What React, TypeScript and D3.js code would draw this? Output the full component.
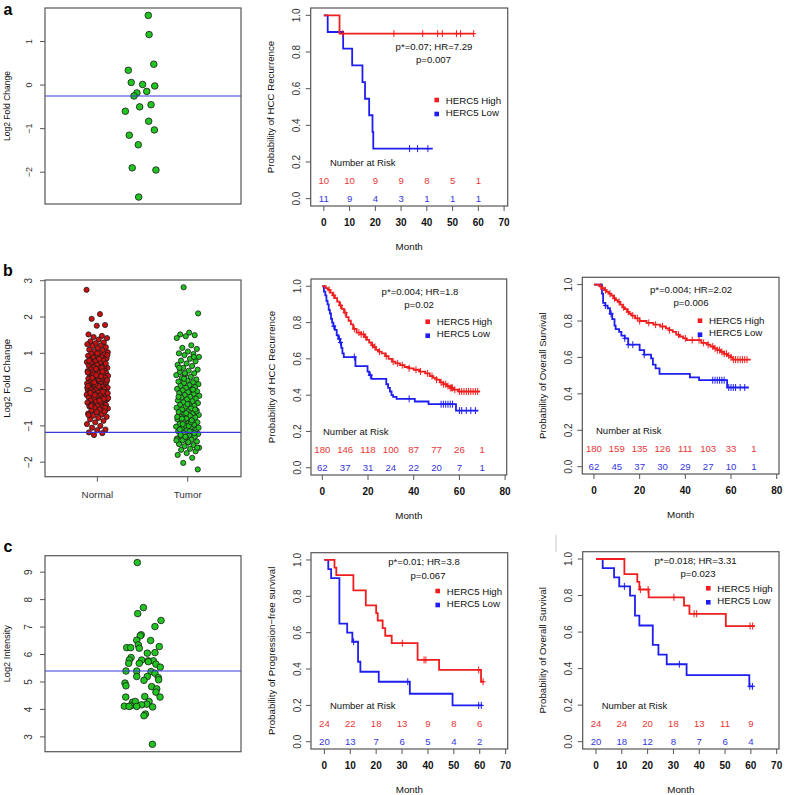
import React from 'react';
import * as d3 from 'd3';

const FONT = "'Liberation Sans', Arial, Helvetica, sans-serif";
const RED = '#f01e1e';
const BLUE = '#1e1ef0';
const RED_TXT = '#e83535';
const BLUE_TXT = '#3535e0';
const GREEN = '#22c422';
const DARKRED = '#c81212';

// ---------------- Panel a: scatter ----------------
const aValues = [1.6, 1.16, 0.48, 0.34, 0.06, 0.015, -0.02, -0.145, -0.18, -0.25, -0.45, -0.5, -0.6, -0.83, -1.03, -1.15, -1.37, -1.9, -1.95, -2.57];
const aJitter = [0.027, 0.031, 0.055, -0.075, -0.06, -0.002, 0.06, 0.019, -0.031, -0.046, 0.041, -0.017, -0.09, 0.029, 0.058, -0.07, -0.024, -0.055, 0.066, -0.022];
const aRef = -0.25;
const aTicks = [-2, -1, 0, 1];

// ---------------- Panel b: scatter ----------------
const bNormal = [2.75, 2.08, 1.95, 1.78, 1.76, 1.52, 1.48, 1.45, 1.42, 1.38, 1.33, 1.3, 1.28, 1.25, 1.22, 1.2, 1.17, 1.14, 1.1, 1.08, 1.05, 1.03, 1.01, 0.99, 0.97, 0.95, 0.93, 0.9, 0.88, 0.86, 0.84, 0.82, 0.8, 0.78, 0.76, 0.74, 0.72, 0.7, 0.68, 0.66, 0.64, 0.62, 0.6, 0.58, 0.56, 0.55, 0.53, 0.51, 0.5, 0.48, 0.46, 0.45, 0.43, 0.41, 0.4, 0.38, 0.36, 0.35, 0.33, 0.31, 0.3, 0.28, 0.27, 0.25, 0.24, 0.22, 0.2, 0.19, 0.17, 0.16, 0.14, 0.13, 0.11, 0.1, 0.08, 0.07, 0.05, 0.04, 0.02, 0.01, -0.01, -0.02, -0.04, -0.05, -0.07, -0.08, -0.1, -0.11, -0.13, -0.14, -0.16, -0.17, -0.19, -0.2, -0.22, -0.24, -0.25, -0.27, -0.29, -0.3, -0.32, -0.34, -0.36, -0.38, -0.4, -0.42, -0.44, -0.46, -0.48, -0.5, -0.52, -0.55, -0.58, -0.6, -0.63, -0.66, -0.69, -0.72, -0.75, -0.78, -0.82, -0.86, -0.9, -0.95, -1.0, -1.05, -1.1, -1.12, -1.18, -1.2, -1.25, 0.95, 0.85, 0.75, 0.65, 0.57, 0.47, 0.37, 0.29, 0.21, 0.12, 0.03, -0.06, -0.15, -0.23, -0.31, -0.41, -0.5, -0.62, -0.7, 0.6, 0.42, 0.26, 0.09, -0.09, -0.26, 0.15, 0.05, -0.35, 0.32, 0.72, 1.0, 0.8, 0.5, 0.2, -0.1, -0.3, -0.45, -0.6, 0.4, 0.1];
const bTumor = [2.82, 2.1, 1.57, 1.52, 1.5, 1.47, 1.42, 1.22, 1.15, 1.12, 1.05, 1.0, 0.98, 0.95, 0.9, 0.85, 0.8, 0.78, 0.72, 0.68, 0.65, 0.6, 0.55, 0.52, 0.48, 0.45, 0.42, 0.4, 0.35, 0.32, 0.28, 0.25, 0.22, 0.2, 0.18, 0.15, 0.12, 0.1, 0.07, 0.05, 0.02, 0.0, -0.02, -0.05, -0.07, -0.1, -0.12, -0.15, -0.17, -0.2, -0.22, -0.25, -0.27, -0.3, -0.32, -0.35, -0.37, -0.4, -0.42, -0.45, -0.47, -0.5, -0.52, -0.55, -0.57, -0.6, -0.62, -0.65, -0.67, -0.7, -0.72, -0.75, -0.77, -0.8, -0.82, -0.85, -0.87, -0.9, -0.92, -0.95, -0.97, -1.0, -1.02, -1.05, -1.07, -1.1, -1.12, -1.15, -1.17, -1.2, -1.22, -1.25, -1.27, -1.3, -1.32, -1.35, -1.38, -1.4, -1.43, -1.46, -1.5, -1.53, -1.56, -1.6, -1.63, -1.66, -1.7, -1.75, -1.8, -1.88, -2.02, -2.2, -1.0, -1.1, -1.2, -1.3, -1.4, -0.9, -0.8, -0.6, -0.4, -0.2, 0.0, 0.3, -1.05, -1.15, -1.25, -0.55, -0.65, -0.75, -0.85, -0.95, -1.6, -1.45, 0.6, 0.9, 0.45];
const bRef = -1.18;
const bTicks = [-2, -1, 0, 1, 2, 3];
const bGroups = ['Normal', 'Tumor'];

// ---------------- Panel c: scatter ----------------
const cValues = [9.35, 7.71, 7.49, 7.24, 7.02, 6.72, 6.68, 6.52, 6.51, 6.35, 6.23, 6.29, 6.25, 6.25, 6.07, 6.05, 5.89, 5.8, 5.8, 5.77, 5.77, 5.68, 5.68, 5.65, 5.74, 5.54, 5.4, 5.4, 5.38, 5.32, 5.2, 5.2, 5.16, 5.08, 5.06, 4.96, 4.86, 4.83, 4.75, 4.63, 4.45, 4.47, 4.45, 4.29, 4.26, 4.29, 4.19, 4.17, 4.13, 4.12, 4.11, 4.11, 4.09, 3.83, 3.77, 2.73];
const cJitter = [-0.029, 0.002, -0.027, 0.092, 0.061, -0.009, -0.014, -0.032, 0.039, -0.024, -0.019, 0.083, -0.083, -0.063, 0.061, 0.022, -0.061, -0.07, -0.007, 0.027, 0.053, -0.073, -0.019, 0.066, 0.027, 0.088, -0.087, -0.032, 0.041, 0.061, -0.032, 0.022, 0.078, 0.08, 0.005, -0.092, -0.087, 0.044, 0.07, 0.066, -0.088, 0.009, 0.087, 0.031, -0.053, -0.039, 0.019, -0.007, -0.063, -0.095, -0.071, -0.032, 0.049, 0.012, 0.005, 0.048];
const cRef = 5.4;
const cTicks = [3, 4, 5, 6, 7, 8, 9];

// ---------------- KM curves ----------------
// a: HCC recurrence
const aHighT = [0, 6.1];
const aHighS = [1, 0.9];
const aHighEnd = 58.3;
const aHighCens = [7.4, 27.2, 38.4, 44.2, 46, 51.5, 53.1, 58.2];
const aLowT = [0, 1.5, 7.5, 11, 15, 16, 17.6, 18.9, 19.2];
const aLowS = [1, 0.909, 0.818, 0.727, 0.636, 0.545, 0.455, 0.364, 0.273];
const aLowEnd = 42.3;
const aLowCens = [33.3, 36.4, 40.4];
const aRiskT = [0, 10, 20, 30, 40, 50, 60];
const aRiskHigh = [10, 10, 9, 9, 8, 5, 1];
const aRiskLow = [11, 9, 4, 3, 1, 1, 1];

// b1: HCC recurrence
const b1HighT = [0, 1.5, 2.5, 3.5, 4.5, 5.5, 6.5, 7.5, 8.5, 9.5, 10.5, 11.5, 12.5, 13.5, 15, 17, 18.5, 19.5, 20.5, 21.5, 22.5, 23.5, 24.5, 26, 27.5, 29, 30.5, 32, 34, 36, 38, 40, 42.5, 45, 47, 48.5, 50, 51.5, 53, 54.5, 56, 57.5, 59.5];
const b1HighS = [1, 0.99, 0.98, 0.965, 0.95, 0.935, 0.915, 0.895, 0.875, 0.855, 0.83, 0.81, 0.79, 0.765, 0.745, 0.735, 0.72, 0.705, 0.69, 0.675, 0.665, 0.65, 0.64, 0.63, 0.615, 0.6, 0.585, 0.575, 0.565, 0.555, 0.548, 0.54, 0.53, 0.52, 0.505, 0.495, 0.485, 0.47, 0.46, 0.45, 0.44, 0.43, 0.42];
const b1HighEnd = 69;
const b1HighCens = [3, 5, 8, 10, 14, 16, 17, 18, 19, 22, 23, 25, 28, 31, 33, 35, 38, 41, 43, 46, 48, 50, 52, 53, 54, 55, 56, 56.5, 57, 58, 60, 61, 62, 63, 64, 65, 66, 67, 68];
const b1LowT = [0, 0.7, 1.3, 1.8, 2.3, 2.8, 3.3, 3.8, 4.3, 4.8, 5.5, 6.3, 7, 7.7, 8.3, 8.8, 9.4, 14.5, 19.8, 20.5, 21.5, 28, 28.8, 29.6, 30.3, 31, 32.5, 40.5, 46.5, 58.5];
const b1LowS = [1, 0.97, 0.95, 0.92, 0.9, 0.87, 0.85, 0.82, 0.8, 0.78, 0.76, 0.73, 0.71, 0.69, 0.66, 0.63, 0.61, 0.56, 0.53, 0.51, 0.49, 0.46, 0.44, 0.42, 0.4, 0.39, 0.38, 0.365, 0.35, 0.315];
const b1LowEnd = 68.3;
const b1LowCens = [5, 7.5, 8, 14, 21, 38, 52, 53, 54, 55, 56, 57, 60, 61, 63, 65, 67];
const bRiskT = [0, 10, 20, 30, 40, 50, 60, 70];
const b1RiskHigh = [180, 146, 118, 100, 87, 77, 26, 1];
const b1RiskLow = [62, 37, 31, 24, 22, 20, 7, 1];

// b2: overall survival
const b2HighT = [0, 2.5, 3.5, 4.5, 5.5, 6.5, 7.5, 8.5, 9.5, 10.5, 11.5, 12.5, 13.5, 14.5, 15.5, 16.5, 18, 20, 23, 26, 29, 31.5, 33, 34.5, 36, 37.5, 39, 40.5, 47, 49.5, 51, 52.5, 54, 55.5, 57, 58.5, 60, 61];
const b2HighS = [1, 0.99, 0.98, 0.97, 0.96, 0.95, 0.94, 0.925, 0.915, 0.905, 0.89, 0.875, 0.865, 0.85, 0.84, 0.83, 0.815, 0.8, 0.79, 0.78, 0.77, 0.76, 0.75, 0.74, 0.725, 0.715, 0.705, 0.695, 0.68, 0.67, 0.66, 0.65, 0.64, 0.63, 0.62, 0.61, 0.6, 0.588];
const b2HighEnd = 68.6;
const b2HighCens = [3, 5, 7, 9, 11, 13, 15, 17, 19, 20, 24, 27, 30, 33, 37, 40, 43, 46, 48, 50, 52, 53, 54, 55, 56, 57, 58, 59, 60, 61, 62, 63, 64, 65, 66, 67];
const b2LowT = [0, 3.5, 4, 5, 6, 7, 8, 9, 9.5, 11, 12, 13.5, 15, 20, 22, 25, 25.8, 27, 28.7, 42, 46, 58.3];
const b2LowS = [1, 0.95, 0.9, 0.885, 0.87, 0.84, 0.81, 0.775, 0.755, 0.74, 0.72, 0.705, 0.67, 0.64, 0.615, 0.595, 0.56, 0.54, 0.51, 0.49, 0.475, 0.435];
const b2LowEnd = 67.8;
const b2LowCens = [5, 7.5, 13.5, 15, 17, 22, 52, 53, 54, 55, 56, 57, 59, 60, 61, 62, 64, 66];
const b2RiskHigh = [180, 159, 135, 126, 111, 103, 33, 1];
const b2RiskLow = [62, 45, 37, 30, 29, 27, 10, 1];

// c1: progression-free survival
const c1HighT = [0, 3.9, 4.6, 11.2, 16, 20, 20.6, 22.5, 23.5, 26, 36, 44.3, 60.5];
const c1HighS = [1, 0.958, 0.917, 0.833, 0.75, 0.708, 0.667, 0.625, 0.583, 0.542, 0.45, 0.395, 0.33];
const c1HighEnd = 61.5;
const c1HighCens = [30.1, 38.5, 39.2, 59.6, 61.3];
const c1LowT = [0, 1.5, 2.6, 5.8, 8.8, 10.8, 13, 13.9, 21, 33, 49.5];
const c1LowS = [1, 0.95, 0.9, 0.65, 0.6, 0.55, 0.44, 0.385, 0.33, 0.264, 0.2];
const c1LowEnd = 61;
const c1LowCens = [11.3, 32.2, 59.6, 60.6];
const cRiskT = [0, 10, 20, 30, 40, 50, 60];
const c1RiskHigh = [24, 22, 18, 13, 9, 8, 6];
const c1RiskLow = [20, 13, 7, 6, 5, 4, 2];

// c2: overall survival
const c2HighT = [0, 11, 16, 16.8, 20.4, 34.1, 36.2, 50.3];
const c2HighS = [1, 0.917, 0.875, 0.833, 0.79, 0.745, 0.7, 0.633];
const c2HighEnd = 61.5;
const c2HighCens = [17.2, 20.2, 30.2, 38, 39, 59.7, 60.7];
const c2LowT = [0, 2.6, 7, 9, 13.2, 15.1, 16.8, 22, 24.2, 27.4, 35.1, 59.4];
const c2LowS = [1, 0.95, 0.9, 0.85, 0.8, 0.69, 0.636, 0.53, 0.477, 0.424, 0.364, 0.303];
const c2LowEnd = 61;
const c2LowCens = [11, 32.3, 59.6, 60.6];
const c2RiskHigh = [24, 24, 20, 18, 13, 11, 9];
const c2RiskLow = [20, 18, 12, 8, 7, 6, 4];

const survTicks = [0, 0.2, 0.4, 0.6, 0.8, 1.0];
const ticks70 = [0, 10, 20, 30, 40, 50, 60, 70];
const ticks80 = [0, 20, 40, 60, 80];

const LABEL_PFS = 'Probability of Progression\u2212free survival';

const fmtTick = (v: number) => (v < 0 ? '\u2212' + Math.abs(v) : String(v));

// deterministic low-discrepancy spread for dense strip chart
const spread = (i: number) => ((i * 0.6180339887) % 1) - 0.5;

function Scatter(p: any) {
  const left = 45, w = 196;
  const x = d3.scaleLinear().domain(p.xDomain).range([left, left + w]);
  const y = d3.scaleLinear().domain(p.yDomain).range([p.top + p.h, p.top]);
  const bottom = p.top + p.h;
  return (
    <g fontFamily={FONT}>
      {p.groups.map((g: any, gi: number) =>
        g.values.map((v: number, i: number) => (
          <circle key={gi + '-' + i} cx={x(g.pos + g.jit(i))} cy={y(v)} r={p.r} fill={g.fill} stroke="#1a1a1a" strokeWidth={0.8} />
        ))
      )}
      <line x1={left} x2={left + w} y1={y(p.refv)} y2={y(p.refv)} stroke="#3a3ae0" strokeWidth={1.2} />
      <rect x={left} y={p.top} width={w} height={p.h} fill="none" stroke="#555" strokeWidth={1.2} />
      {p.ticks.map((t: number) => (
        <g key={t}>
          <line x1={left - 5} x2={left} y1={y(t)} y2={y(t)} stroke="#555" />
          <text transform={`translate(28.5,${y(t)}) rotate(-90)`} textAnchor="middle" dominantBaseline="central" fontSize={p.tickSize} fill="#333">{fmtTick(t)}</text>
        </g>
      ))}
      {p.xLabels && p.xLabels.map((lab: string, i: number) => (
        <g key={lab}>
          <line x1={x(i + 1)} x2={x(i + 1)} y1={bottom} y2={bottom + 5} stroke="#555" />
          <text x={x(i + 1)} y={bottom + 21} textAnchor="middle" fontSize={9.8} fill="#333">{lab}</text>
        </g>
      ))}
      <text transform={`translate(6.5,${p.top + p.h / 2}) rotate(-90)`} textAnchor="middle" dominantBaseline="central" fontSize={p.labelSize} fill="#111">{p.label}</text>
    </g>
  );
}

function survAt(times: number[], surv: number[], t: number) {
  let v = surv[0];
  for (let i = 0; i < times.length; i++) if (times[i] <= t) v = surv[i];
  return v;
}

function KM(c: any) {
  const x = d3.scaleLinear().domain(c.xDomain).range([c.left, c.left + c.w]);
  const y = d3.scaleLinear().domain([-0.04, 1.04]).range([c.top + c.h, c.top]);
  const line = d3.line<[number, number]>().x(d => x(d[0])).y(d => y(d[1])).curve(d3.curveStepAfter);
  const bottom = c.top + c.h;
  const curves = [
    { t: c.low.t, s: c.low.s, end: c.low.end, cens: c.low.cens, color: BLUE },
    { t: c.high.t, s: c.high.s, end: c.high.end, cens: c.high.cens, color: RED },
  ];
  return (
    <g fontFamily={FONT}>
      {curves.map((cv, k) => {
        const pts: [number, number][] = cv.t.map((t: number, i: number) => [t, cv.s[i]]);
        pts.push([cv.end, cv.s[cv.s.length - 1]]);
        return (
          <g key={k}>
            <path d={line(pts) || ''} fill="none" stroke={cv.color} strokeWidth={1.8} />
            {cv.cens.map((ct: number, i: number) => {
              const cx = x(ct), cy = y(survAt(cv.t, cv.s, ct));
              return (
                <g key={i} stroke={cv.color} strokeWidth={1}>
                  <line x1={cx} x2={cx} y1={cy - 3.5} y2={cy + 3.5} />
                  <line x1={cx - 2.5} x2={cx + 2.5} y1={cy} y2={cy} />
                </g>
              );
            })}
          </g>
        );
      })}
      <rect x={c.left} y={c.top} width={c.w} height={c.h} fill="none" stroke="#555" strokeWidth={1.2} />
      {survTicks.map(v => (
        <g key={v}>
          <line x1={c.left - 5} x2={c.left} y1={y(v)} y2={y(v)} stroke="#555" />
          <text transform={`translate(${c.left - 14},${y(v)}) rotate(-90)`} textAnchor="middle" dominantBaseline="central" fontSize={10} fill="#333">{v.toFixed(1)}</text>
        </g>
      ))}
      {c.xTicks.map((v: number) => (
        <g key={v}>
          <line x1={x(v)} x2={x(v)} y1={bottom} y2={bottom + 5} stroke="#555" />
          <text x={x(v)} y={bottom + 20} textAnchor="middle" fontSize={10} fontWeight="bold" fill="#111">{v}</text>
        </g>
      ))}
      <text x={c.left + c.w / 2} y={bottom + 43.5} textAnchor="middle" fontSize={9.8} fill="#111">Month</text>
      <text transform={`translate(${c.left - 40},${c.top + c.h / 2}) rotate(-90)`} textAnchor="middle" dominantBaseline="central" fontSize={9.7} fill="#111">{c.ylabel}</text>
      <text x={c.pX} y={c.pY} textAnchor="middle" fontSize={9.6} fill="#111">{c.p1}</text>
      <text x={c.pX2} y={c.pY + 13.3} textAnchor="middle" fontSize={9.6} fill="#111">{c.p2}</text>
      <rect x={c.legX - 2.3} y={c.legY - 2.3} width={4.6} height={4.6} fill={RED} />
      <rect x={c.legX - 2.3} y={c.legY + 11.7} width={4.6} height={4.6} fill={BLUE} />
      <text x={c.legX + 9} y={c.legY + 3.5} fontSize={9.7} fill="#111">HERC5 High</text>
      <text x={c.legX + 9} y={c.legY + 15.5} fontSize={9.7} fill="#111">HERC5 Low</text>
      <text x={c.nrX} y={y(0.2) + 3.5} fontSize={9.5} fill="#111">Number at Risk</text>
      {c.riskT.map((t: number, i: number) => (
        <g key={t}>
          <text x={x(t)} y={y(0.1) + 3.5} textAnchor="middle" fontSize={9.6} fill={RED_TXT}>{c.riskHigh[i]}</text>
          <text x={x(t)} y={y(0) + 3.5} textAnchor="middle" fontSize={9.6} fill={BLUE_TXT}>{c.riskLow[i]}</text>
        </g>
      ))}
    </g>
  );
}

export default function App() {
  return (
    <div style={{ position: 'absolute', left: 0, top: 0 }}>
      <svg width={785} height={795} style={{ display: 'block', background: '#fff' }}>
        <rect width={785} height={795} fill="#fff" />
        <g fontFamily={FONT} fontWeight="bold" fontSize={16} fill="#000">
          <text x={3.5} y={14.5}>a</text>
          <text x={3} y={275.7}>b</text>
          <text x={3.5} y={552.3}>c</text>
        </g>

        <Scatter top={8} h={196} yDomain={[-2.73, 1.77]} xDomain={[0.5, 1.5]} ticks={aTicks} refv={aRef}
          r={3.3} tickSize={9} labelSize={8.5} label="Log2 Fold Change"
          groups={[{ pos: 1, values: aValues, jit: (i: number) => aJitter[i], fill: GREEN }]} />
        <Scatter top={280} h={196.7} yDomain={[-2.4, 3.02]} xDomain={[0.42, 2.59]} ticks={bTicks} refv={bRef}
          r={2.6} tickSize={10} labelSize={9.6} label="Log2 Fold Change" xLabels={bGroups}
          groups={[
            { pos: 1, values: bNormal, jit: (i: number) => spread(i) * 0.24, fill: DARKRED },
            { pos: 2, values: bTumor, jit: (i: number) => spread(i + 7) * 0.26, fill: GREEN },
          ]} />
        <Scatter top={555.7} h={196} yDomain={[2.46, 9.6]} xDomain={[0.5, 1.5]} ticks={cTicks} refv={cRef}
          r={3.3} tickSize={10} labelSize={9.2} label="Log2 Intensity"
          groups={[{ pos: 1, values: cValues, jit: (i: number) => cJitter[i], fill: GREEN }]} />

        <KM left={310.7} top={8} w={197} h={198} xDomain={[-5.1, 71.4]} xTicks={ticks70}
          ylabel="Probability of HCC Recurrence"
          high={{ t: aHighT, s: aHighS, end: aHighEnd, cens: aHighCens }}
          low={{ t: aLowT, s: aLowS, end: aLowEnd, cens: aLowCens }}
          riskT={aRiskT} riskHigh={aRiskHigh} riskLow={aRiskLow}
          p1="p*=0.07; HR=7.29" p2="p=0.007" pX={434} pX2={433.5} pY={49.5}
          legX={436.7} legY={100} nrX={330} />
        <KM left={311} top={279} w={195.7} h={196} xDomain={[-4.95, 80.7]} xTicks={ticks80}
          ylabel="Probability of HCC Recurrence"
          high={{ t: b1HighT, s: b1HighS, end: b1HighEnd, cens: b1HighCens }}
          low={{ t: b1LowT, s: b1LowS, end: b1LowEnd, cens: b1LowCens }}
          riskT={bRiskT} riskHigh={b1RiskHigh} riskLow={b1RiskLow}
          p1="p*=0.004; HR=1.8" p2="p=0.02" pX={420} pX2={419} pY={294.5}
          legX={427.7} legY={321.7} nrX={323} />
        <KM left={582.3} top={277.3} w={196.7} h={196.7} xDomain={[-5.1, 81]} xTicks={ticks80}
          ylabel="Probability of Overall Survival"
          high={{ t: b2HighT, s: b2HighS, end: b2HighEnd, cens: b2HighCens }}
          low={{ t: b2LowT, s: b2LowS, end: b2LowEnd, cens: b2LowCens }}
          riskT={bRiskT} riskHigh={b2RiskHigh} riskLow={b2RiskLow}
          p1="p*=0.004; HR=2.02" p2="p=0.006" pX={691} pX2={691} pY={292.8}
          legX={700} legY={320.7} nrX={596} />
        <KM left={311} top={552.7} w={196.7} h={196.3} xDomain={[-5.17, 70.8]} xTicks={ticks70}
          ylabel={LABEL_PFS}
          high={{ t: c1HighT, s: c1HighS, end: c1HighEnd, cens: c1HighCens }}
          low={{ t: c1LowT, s: c1LowS, end: c1LowEnd, cens: c1LowCens }}
          riskT={cRiskT} riskHigh={c1RiskHigh} riskLow={c1RiskLow}
          p1="p*=0.01; HR=3.8" p2="p=0.067" pX={424} pX2={428} pY={565.2}
          legX={437.7} legY={591} nrX={330} />
        <KM left={582.7} top={551.7} w={196.3} h={197.3} xDomain={[-5.15, 70.9]} xTicks={ticks70}
          ylabel="Probability of Overall Survival"
          high={{ t: c2HighT, s: c2HighS, end: c2HighEnd, cens: c2HighCens }}
          low={{ t: c2LowT, s: c2LowS, end: c2LowEnd, cens: c2LowCens }}
          riskT={cRiskT} riskHigh={c2RiskHigh} riskLow={c2RiskLow}
          p1="p*=0.018; HR=3.31" p2="p=0.023" pX={695.5} pX2={698} pY={563.5}
          legX={708.3} legY={588.3} nrX={601.7} />
        <line x1={556} x2={556} y1={535} y2={552} stroke="#c8c8c8" strokeWidth={1} />
      </svg>
    </div>
  );
}
